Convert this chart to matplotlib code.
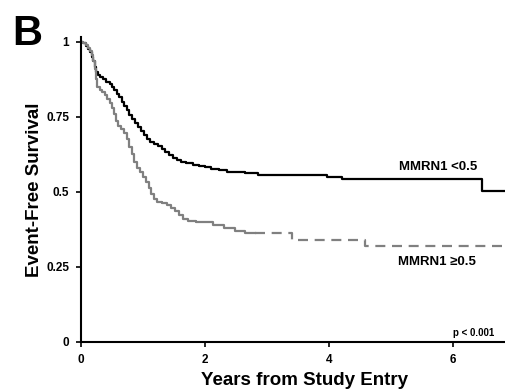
import numpy as np
import matplotlib.pyplot as plt

plt.rcParams['font.family'] = ['Liberation Sans', 'DejaVu Sans']
plt.rcParams['font.weight'] = 'bold'

# Kaplan-Meier steps
low_t = [0, 0.04, 0.08, 0.12, 0.15, 0.18, 0.2, 0.22, 0.24, 0.27, 0.31, 0.36, 0.41,
         0.46, 0.5, 0.54, 0.58, 0.62, 0.66, 0.7, 0.74, 0.78, 0.82, 0.87, 0.92, 0.97,
         1.02, 1.07, 1.12, 1.18, 1.24, 1.3, 1.36, 1.42, 1.48, 1.55, 1.62, 1.7, 1.8,
         1.9, 2.0, 2.1, 2.22, 2.35, 2.5, 2.65, 2.85, 3.5, 3.96, 4.2, 6.46, 6.85]
low_s = [1, 0.995, 0.985, 0.975, 0.965, 0.95, 0.935, 0.915, 0.9, 0.89, 0.882, 0.875,
         0.868, 0.86, 0.85, 0.84, 0.828, 0.815, 0.8, 0.786, 0.772, 0.756, 0.743, 0.73,
         0.716, 0.702, 0.69, 0.678, 0.668, 0.66, 0.652, 0.642, 0.632, 0.622, 0.613,
         0.605, 0.599, 0.595, 0.59, 0.586, 0.582, 0.577, 0.572, 0.568, 0.565, 0.562,
         0.558, 0.555, 0.551, 0.542, 0.503, 0.503]

high_t = [0, 0.04, 0.08, 0.12, 0.15, 0.18, 0.2, 0.22, 0.24, 0.26, 0.3, 0.34, 0.38,
          0.42, 0.46, 0.5, 0.53, 0.56, 0.6, 0.65, 0.7, 0.74, 0.78, 0.82, 0.86, 0.9,
          0.95, 1.0, 1.05, 1.09, 1.13, 1.17, 1.22, 1.3, 1.38, 1.45, 1.52, 1.58, 1.64,
          1.72, 1.85, 2.13, 2.3, 2.48, 2.65, 2.8, 3.4, 4.58, 6.8]
high_s = [1, 0.995, 0.99, 0.98, 0.97, 0.955, 0.935, 0.91, 0.875, 0.85, 0.84, 0.832,
          0.822, 0.81, 0.798, 0.78, 0.76, 0.738, 0.72, 0.71, 0.698, 0.675, 0.65, 0.625,
          0.6, 0.58, 0.565, 0.55, 0.532, 0.512, 0.492, 0.475, 0.468, 0.462, 0.456,
          0.445, 0.435, 0.422, 0.41, 0.403, 0.401, 0.39, 0.381, 0.37, 0.362, 0.362,
          0.34, 0.321, 0.321]
split_t = 2.8  # grey curve turns dashed after this

fig = plt.figure(figsize=(5.06, 3.92), dpi=100)
ax = fig.add_axes([0.160, 0.1276, 0.840, 0.777])

ax.step(low_t, low_s, where='post', color='black', lw=1.6)

ht = np.array(high_t)
hs = np.array(high_s)
k = np.searchsorted(ht, split_t)
ax.step(ht[:k + 1], hs[:k + 1], where='post', color='#808080', lw=1.6)
ax.step(ht[k:], hs[k:], where='post', color='#808080', lw=1.6,
        linestyle=(0, (4.5, 3)))

ax.set_xlim(0, 6.85)
ax.set_ylim(0, 1.015)
ax.set_xticks([0, 2, 4, 6])
ax.set_yticks([0, 0.25, 0.5, 0.75, 1])
ax.set_yticklabels(['0', '0.25', '0.5', '0.75', '1'])
ax.tick_params(direction='out', length=3.5, width=1.2, labelsize=8.5, pad=5)
for lab in ax.get_xticklabels() + ax.get_yticklabels():
    lab.set_fontweight('bold')

for s in ['top', 'right']:
    ax.spines[s].set_visible(False)
for s in ['left', 'bottom']:
    ax.spines[s].set_linewidth(1.5)

ax.set_xlabel('Years from Study Entry', fontsize=13.5, fontweight='bold')
ax.set_ylabel('Event-Free Survival', fontsize=13.5, fontweight='bold')
ax.xaxis.set_label_coords(0.525, -0.1)
ax.yaxis.set_label_coords(-0.089, 0.5)

ax.text(5.12, 0.582, 'MMRN1 <0.5', fontsize=9.5, fontweight='bold', va='center')
ax.text(5.11, 0.268, 'MMRN1 \u22650.5', fontsize=9.5, fontweight='bold', va='center')
ax.text(6.0, 0.03, 'p < 0.001', fontsize=7, fontweight='bold', va='center')

fig.text(0.025, 0.885, 'B', fontsize=30, fontweight='bold')

fig.savefig('out.png', dpi=100)
